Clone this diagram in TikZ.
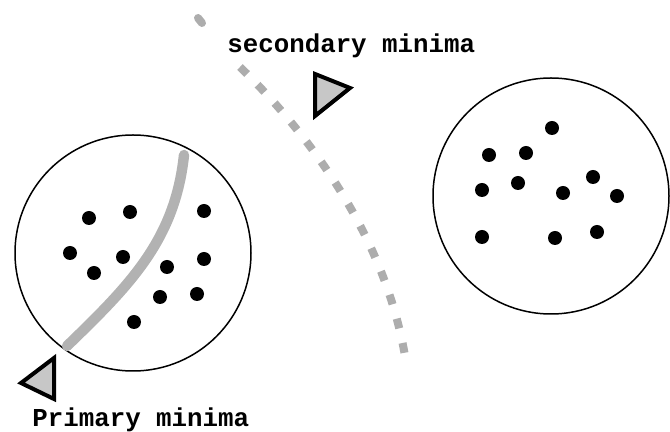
\documentclass[tikz,border=0pt]{standalone}
\usepackage{fontspec}
\newfontfamily\labelfont{Liberation Mono}
\usepackage{tikz}
\usetikzlibrary{calc}

\begin{document}
\begin{tikzpicture}[x=0.5pt,y=-0.5pt,
    dot/.style={circle,fill=black,inner sep=0pt,minimum size=7pt},
    ring/.style={draw=black,line width=0.75pt},
    band/.style={draw=black!30,line width=5.2pt,line cap=round},
    trail/.style={draw=black!32,line width=4pt,dash pattern=on 5pt off 7.5pt},
    pointer/.style={draw=black,line width=2pt,fill=black!22,line join=miter},
    lbl/.style={font=\labelfont\bfseries\fontsize{12.9}{14}\selectfont,anchor=base west,inner sep=0pt}]
  \useasboundingbox (0,0) rectangle (670,432);

  % 1. 兩個群集的圓
  \coordinate (O_1) at (133,253);
  \coordinate (O_2) at (551,196);
  \draw[ring] (O_1) circle[radius=59pt];
  \draw[ring] (O_2) circle[radius=59pt];

  % 2. 左邊群集的點
  \foreach \p [count=\i] in {(89,218),(130,212),(204,211),(70,253),(123,257),
      (94,273),(167,267),(204,259),(160,297),(197,294),(134,322)}
    \node[dot] (L\i) at \p {};

  % 3. 右邊群集的點
  \foreach \p [count=\i] in {(552,128),(489,155),(526,153),(482,190),(518,183),
      (563,193),(593,177),(617,196),(482,237),(555,238),(597,232)}
    \node[dot] (R\i) at \p {};

  % 4. 主要極小值的分界帶
  \draw[band] (184,155) .. controls (175,240) and (130,285) .. (67,346);

  % 5. 次要極小值的虛線
  \coordinate (S_0) at (240,67);
  \coordinate (S_1) at (405,356);
  \draw[trail,line cap=round,dash pattern=] (198,18) -- (202,23);
  \draw[trail] (S_0) .. controls (315,140) and (385,240) .. (S_1);

  % 6. 標示三角形
  \draw[pointer] (315,74) -- (350,88) -- (315,116) -- cycle;
  \draw[pointer] (54,358) -- (21,383) -- (54,399) -- cycle;

  % 7. 文字
  \node[lbl] (sec) at (227,53) {secondary minima};
  \node[lbl] (pri) at (32,427) {Primary minima};
\end{tikzpicture}
\end{document}
